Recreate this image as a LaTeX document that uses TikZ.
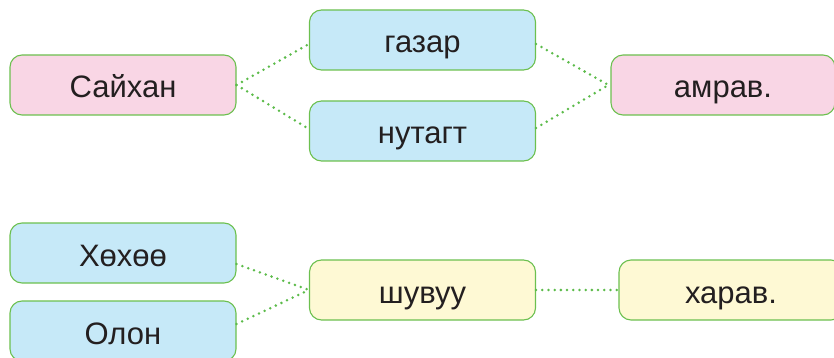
\documentclass[tikz,border=0pt]{standalone}
\usepackage{fontspec}
\setmainfont{Liberation Sans}
\definecolor{bpink}{HTML}{F9D6E5}
\definecolor{bblue}{HTML}{C6E9F8}
\definecolor{byel}{HTML}{FEF9D4}
\definecolor{bgreen}{HTML}{6CC04F}
\definecolor{dgreen}{HTML}{5CBB4A}
\definecolor{txt}{HTML}{231F20}
\begin{document}
\begin{tikzpicture}[x=1pt,y=-1pt,
  wbox/.style={draw=bgreen,line width=1.1pt,rounded corners=12pt,minimum width=226pt,minimum height=60pt,inner sep=0pt,text height=26pt,text depth=0pt,text=txt,font=\fontsize{31}{33}\selectfont},
  pinkbox/.style={wbox,fill=bpink},
  bluebox/.style={wbox,fill=bblue},
  yelbox/.style={wbox,fill=byel},
  dotline/.style={draw=dgreen,line width=2.8pt,line cap=round,dash pattern=on 0pt off 6.2pt}]
\useasboundingbox (0,0) rectangle (834,358);
\node[pinkbox] (saikhan) at (123,85) {Сайхан};
\node[bluebox] (gazar) at (422.5,40) {газар};
\node[bluebox] (nutagt) at (422.5,131) {нутагт};
\node[pinkbox,minimum width=224pt] (amrav) at (723,85) {амрав.};
\node[bluebox] (khokhoo) at (123,253) {Хөхөө};
\node[bluebox] (olon) at (123,331) {Олон};
\node[yelbox] (shuvuu) at (422.5,290) {шувуу};
\node[yelbox,minimum width=224pt] (kharav) at (731,290) {харав.};
\draw[dotline] (saikhan.east) -- ([yshift=-4pt]gazar.west);
\draw[dotline] (saikhan.east) -- ([yshift=2pt]nutagt.west);
\draw[dotline] ([yshift=-4pt]gazar.east) -- ([xshift=-2pt]amrav.west);
\draw[dotline] ([yshift=3pt]nutagt.east) -- ([xshift=-2pt]amrav.west);
\draw[dotline] ([yshift=-11pt]khokhoo.east) -- (shuvuu.west);
\draw[dotline] ([yshift=7pt]olon.east) -- (shuvuu.west);
\draw[dotline] (shuvuu.east) -- (kharav.west);
\end{tikzpicture}
\end{document}
